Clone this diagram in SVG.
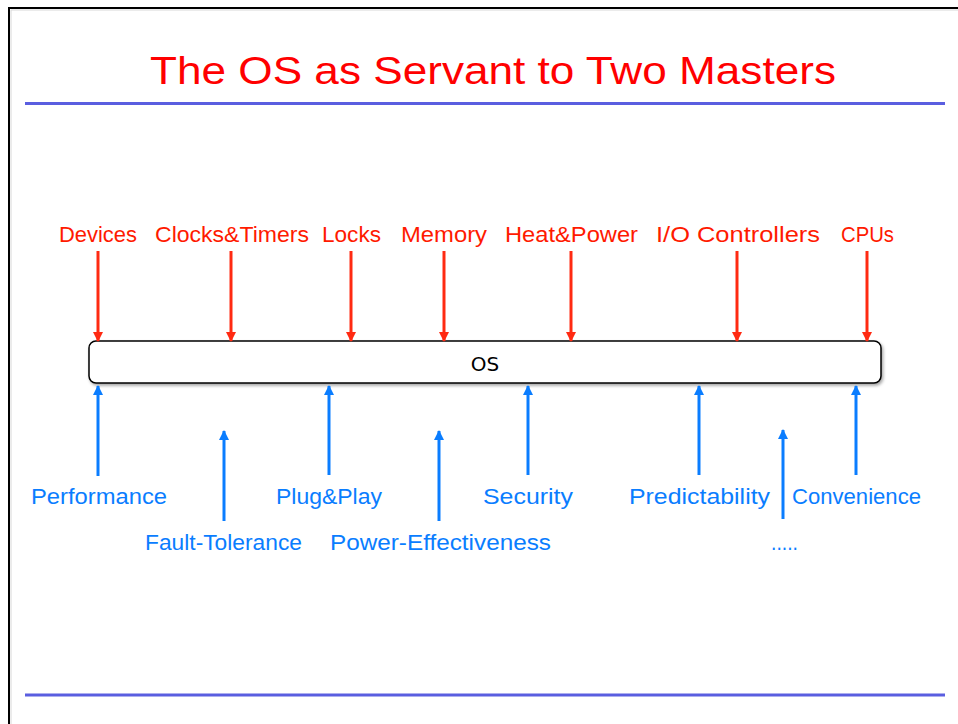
<svg xmlns="http://www.w3.org/2000/svg" width="958" height="724" viewBox="0 0 958 724">
  <defs>
    <marker id="headRed" viewBox="0 0 10 10" refX="9" refY="5" markerWidth="3.4" markerHeight="3.4" markerUnits="strokeWidth" orient="auto">
      <path d="M0,0 L10,5 L0,10 z" fill="#ff2a12"/>
    </marker>
    <marker id="headBlue" viewBox="0 0 10 10" refX="9" refY="5" markerWidth="3.4" markerHeight="3.4" markerUnits="strokeWidth" orient="auto">
      <path d="M0,0 L10,5 L0,10 z" fill="#0a7dff"/>
    </marker>
    <filter id="shadow" x="-5%" y="-30%" width="110%" height="180%">
      <feDropShadow dx="1.5" dy="2" stdDeviation="1.5" flood-color="#000" flood-opacity="0.35"/>
    </filter>
  </defs>
  <style>
    .title { font-family: "Liberation Sans", "DejaVu Sans", sans-serif; font-size: 38px; fill: #ff0000; text-anchor: middle; }
    .src { font-family: "Liberation Sans", "DejaVu Sans", sans-serif; font-size: 22px; fill: #ff1a00; text-anchor: middle; }
    .goal { font-family: "Liberation Sans", "DejaVu Sans", sans-serif; font-size: 22px; fill: #0a7dff; text-anchor: middle; }
    .os { font-family: "DejaVu Sans", "Liberation Sans", sans-serif; font-size: 20px; fill: #000; text-anchor: middle; }
    .down { stroke: #ff2a12; stroke-width: 3; fill: none; marker-end: url(#headRed); }
    .up { stroke: #0a7dff; stroke-width: 3; fill: none; marker-end: url(#headBlue); }
    .rule { stroke: #5a5ee0; stroke-width: 3; }
  </style>

  <rect width="958" height="724" fill="#ffffff"/>

  <!-- slide frame -->
  <path d="M9,724 L9,8 L958,8" fill="none" stroke="#000" stroke-width="2"/>
  <path d="M11,724 L11,10 L958,10" fill="none" stroke="#d8d8d8" stroke-width="1"/>

  <!-- title and rules -->
  <text class="title" x="493" y="84" textLength="686" lengthAdjust="spacingAndGlyphs">The OS as Servant to Two Masters</text>
  <line class="rule" x1="25" y1="103.5" x2="945" y2="103.5"/>
  <line class="rule" x1="25" y1="695" x2="945" y2="695"/>

  <!-- central OS node -->
  <g id="os">
    <rect x="89" y="341" width="792" height="42" rx="7" ry="7" fill="#fff" stroke="#000" stroke-width="1.5" filter="url(#shadow)"/>
    <text class="os" x="485" y="371">OS</text>
  </g>

  <!-- resources acting on the OS -->
  <g id="devices"><text class="src" x="98" y="242" textLength="78" lengthAdjust="spacingAndGlyphs">Devices</text></g>
  <g id="clocks-timers"><text class="src" x="232" y="242" textLength="154" lengthAdjust="spacingAndGlyphs">Clocks&amp;Timers</text></g>
  <g id="locks"><text class="src" x="351.5" y="242" textLength="59" lengthAdjust="spacingAndGlyphs">Locks</text></g>
  <g id="memory"><text class="src" x="444" y="242" textLength="86" lengthAdjust="spacingAndGlyphs">Memory</text></g>
  <g id="heat-power"><text class="src" x="571.5" y="242" textLength="133" lengthAdjust="spacingAndGlyphs">Heat&amp;Power</text></g>
  <g id="io-controllers"><text class="src" x="738" y="242" textLength="164" lengthAdjust="spacingAndGlyphs">I/O Controllers</text></g>
  <g id="cpus"><text class="src" x="867.5" y="242" textLength="53" lengthAdjust="spacingAndGlyphs">CPUs</text></g>

  <!-- requirements placed on the OS -->
  <g id="performance"><text class="goal" x="99" y="504" textLength="136" lengthAdjust="spacingAndGlyphs">Performance</text></g>
  <g id="fault-tolerance"><text class="goal" x="223.5" y="550" textLength="157" lengthAdjust="spacingAndGlyphs">Fault-Tolerance</text></g>
  <g id="plug-play"><text class="goal" x="329" y="504" textLength="106" lengthAdjust="spacingAndGlyphs">Plug&amp;Play</text></g>
  <g id="power-effectiveness"><text class="goal" x="440.5" y="550" textLength="221" lengthAdjust="spacingAndGlyphs">Power-Effectiveness</text></g>
  <g id="security"><text class="goal" x="528" y="504" textLength="90" lengthAdjust="spacingAndGlyphs">Security</text></g>
  <g id="predictability"><text class="goal" x="699.5" y="504" textLength="141" lengthAdjust="spacingAndGlyphs">Predictability</text></g>
  <g id="more"><text class="goal" x="784.5" y="550" textLength="27" lengthAdjust="spacingAndGlyphs">.....</text></g>
  <g id="convenience"><text class="goal" x="856.5" y="504" textLength="129" lengthAdjust="spacingAndGlyphs">Convenience</text></g>

  <!-- connectors -->
  <g id="connectors">
    <line class="down" x1="98" y1="251" x2="98" y2="341"/>
    <line class="down" x1="231" y1="251" x2="231" y2="341"/>
    <line class="down" x1="351" y1="251" x2="351" y2="341"/>
    <line class="down" x1="444" y1="251" x2="444" y2="341"/>
    <line class="down" x1="571" y1="251" x2="571" y2="341"/>
    <line class="down" x1="737" y1="251" x2="737" y2="341"/>
    <line class="down" x1="867" y1="251" x2="867" y2="341"/>

    <line class="up" x1="98" y1="476" x2="98" y2="386"/>
    <line class="up" x1="224" y1="521" x2="224" y2="431"/>
    <line class="up" x1="329" y1="475" x2="329" y2="386"/>
    <line class="up" x1="439" y1="521" x2="439" y2="431"/>
    <line class="up" x1="528" y1="475" x2="528" y2="386"/>
    <line class="up" x1="699" y1="475" x2="699" y2="386"/>
    <line class="up" x1="783" y1="519" x2="783" y2="430"/>
    <line class="up" x1="856" y1="475" x2="856" y2="386"/>
  </g>
</svg>
